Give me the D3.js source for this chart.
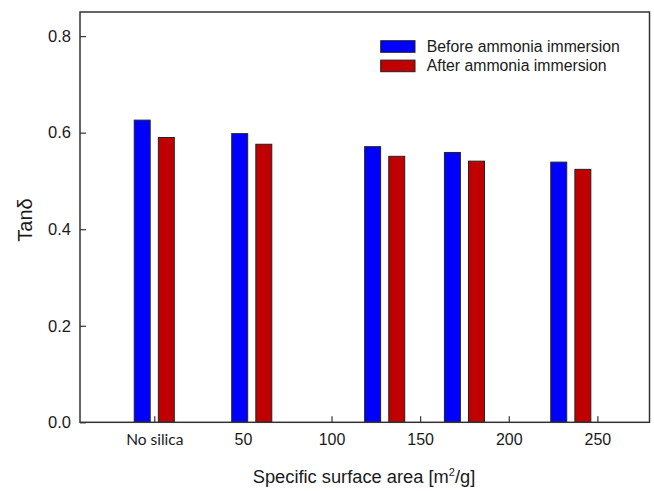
<!DOCTYPE html>
<html>
<head>
<meta charset="utf-8" />
<title>Tan delta vs specific surface area</title>
<script src="https://cdn.jsdelivr.net/npm/d3@7"></script>
<style>
  body { margin: 0; background: #fff; }
  text { font-family: "Liberation Sans", Arial, sans-serif; fill: #1a1a1a; }
</style>
</head>
<body>
<script>
// specific surface area (0 = no silica) and tan delta values
var areas  = [0, 55, 130, 175, 235];
var before = [0.626, 0.598, 0.571, 0.559, 0.539];
var after  = [0.590, 0.576, 0.551, 0.541, 0.524];
var xTicks = [0, 50, 100, 150, 200, 250];
var yTicks = [0, 0.2, 0.4, 0.6, 0.8];
var seriesNames = ["Before ammonia immersion", "After ammonia immersion"];
var colors = ["#0000ff", "#c00000"];

var W = 654, H = 491,
    m = {top: 12, right: 4.5, bottom: 68.7, left: 80},
    w = W - m.left - m.right,
    h = H - m.top - m.bottom;

var x = d3.scaleLinear().domain([-41.9, 279.4]).range([0, w]),
    y = d3.scaleLinear().domain([0, 0.85]).range([h, 0]);

var svg = d3.select("body").append("svg")
    .attr("width", W).attr("height", H);
var g = svg.append("g").attr("transform", "translate(" + m.left + "," + m.top + ")");

// axes with inward ticks
var xAxis = g.append("g").attr("transform", "translate(0," + h + ")")
    .call(d3.axisBottom(x).tickValues(xTicks).tickSizeInner(-6).tickSizeOuter(0)
      .tickFormat(function(d) { return d === 0 ? "No silica" : d; }));
var yAxis = g.append("g")
    .call(d3.axisLeft(y).tickValues(yTicks).tickSizeInner(-6).tickSizeOuter(0)
      .tickFormat(d3.format(".1f")));

[xAxis, yAxis].forEach(function(a) {
  a.select(".domain").remove();
  a.selectAll(".tick line").attr("stroke", "#333").attr("stroke-width", 1.2);
  a.selectAll(".tick text").attr("fill", "#1a1a1a").style("font-size", "16px");
});
xAxis.selectAll(".tick text").attr("y", 17).attr("dy", "0.35em");
xAxis.selectAll(".tick text").filter(function(d) { return d === 0; })
    .style("font-family", "Lato, sans-serif").style("font-size", "15.5px");
yAxis.selectAll(".tick text").attr("x", -9).style("font-size", "16.5px");

// bars
var bw = 9, off = 6.8;
var series = [before, after];
series.forEach(function(vals, s) {
  g.selectAll(".bar" + s).data(vals).enter().append("rect")
    .attr("x", function(d, i) { return x(areas[i] + (s === 0 ? -off : off) - bw / 2); })
    .attr("width", x(bw) - x(0))
    .attr("y", function(d) { return y(d); })
    .attr("height", function(d) { return h - y(d); })
    .attr("fill", colors[s])
    .attr("stroke", "#222").attr("stroke-width", 1);
});

// frame
g.append("rect").attr("width", w).attr("height", h)
  .attr("fill", "none").attr("stroke", "#333").attr("stroke-width", 1.5);

// legend
var lg = g.append("g").attr("transform", "translate(" + (380.7 - m.left) + "," + (40.7 - m.top) + ")");
seriesNames.forEach(function(n, i) {
  lg.append("rect").attr("x", 0).attr("y", i * 19.4).attr("width", 34.3).attr("height", 11.6)
    .attr("fill", colors[i]).attr("stroke", "#222").attr("stroke-width", 1);
  lg.append("text").attr("x", 46).attr("y", i * 19.4 + 5.8).attr("dy", "0.35em")
    .style("font-size", "15.8px").text(n);
});

// axis titles
svg.append("text").attr("x", 364).attr("y", 477).attr("text-anchor", "middle")
  .attr("dy", "0.35em").style("font-size", "18.3px")
  .html("Specific surface area [m<tspan dy='-7' font-size='11px'>2</tspan><tspan dy='7'>/g]</tspan>");
svg.append("text").attr("transform", "translate(25,220) rotate(-90)")
  .attr("text-anchor", "middle").attr("dy", "0.35em").style("font-size", "20px")
  .text("Tanδ");
</script>
</body>
</html>
